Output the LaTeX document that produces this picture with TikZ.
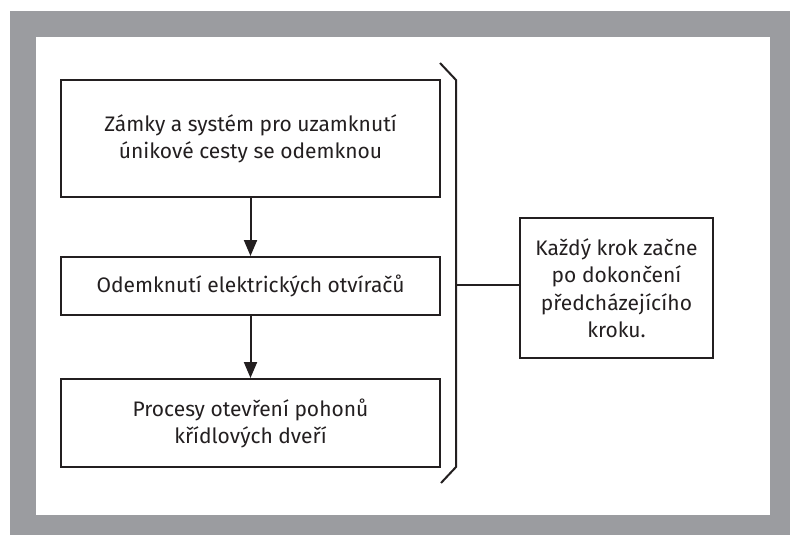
\documentclass[tikz,border=0pt]{standalone}
\usepackage{fontspec}
\setmainfont{Fira Sans}
\usetikzlibrary{arrows.meta,positioning}
\definecolor{framegray}{RGB}{155,156,160}
\definecolor{ink}{RGB}{35,31,32}
\tikzset{stepbox/.style={draw=ink,line width=2pt,minimum width=379pt,align=center,
   font=\fontsize{21}{27}\selectfont,text=ink,inner sep=0pt},
 notebox/.style={draw=ink,line width=2pt,minimum width=193pt,minimum height=140pt,align=center,
   font=\fontsize{21}{27.5}\selectfont,text=ink,inner sep=0pt},
 arrow/.style={-{Triangle[length=16pt,width=13pt]},line width=2pt,draw=ink}}
\begin{document}
\begin{tikzpicture}[x=1pt,y=-1pt]
 \useasboundingbox (0,0) rectangle (790,535);
 \fill[framegray] (10,11) rectangle (790,535);
 \fill[white] (36,37) rectangle (770,515);
 \node[stepbox,minimum height=117pt] (zamky) at (250.5,138.5) {Zámky a systém pro uzamknutí\\únikové cesty se odemknou};
 \node[stepbox,minimum height=58pt] (otvirace) at (250.5,286) {Odemknutí elektrických otvíračů};
 \node[stepbox,minimum height=88pt] (pohony) at (250.5,423) {Procesy otevření pohonů\\křídlových dveří};
 \node[notebox] (krok) at (616.5,288) {Každý krok začne\\po dokončení\\předcházejícího\\kroku.};
 \draw[arrow] (zamky) -- (otvirace);
 \draw[arrow] (otvirace) -- (pohony);
 % brace on the right
 \coordinate (btop) at (456,80);
 \coordinate (bbot) at (456,467);
 \coordinate (bmid) at (456,285);
 \draw[ink,line width=2pt] (440,63) -- (btop) -- (bbot) -- (441,483);
 \draw[ink,line width=2pt] (bmid) -- (bmid -| krok.west);
\end{tikzpicture}
\end{document}
